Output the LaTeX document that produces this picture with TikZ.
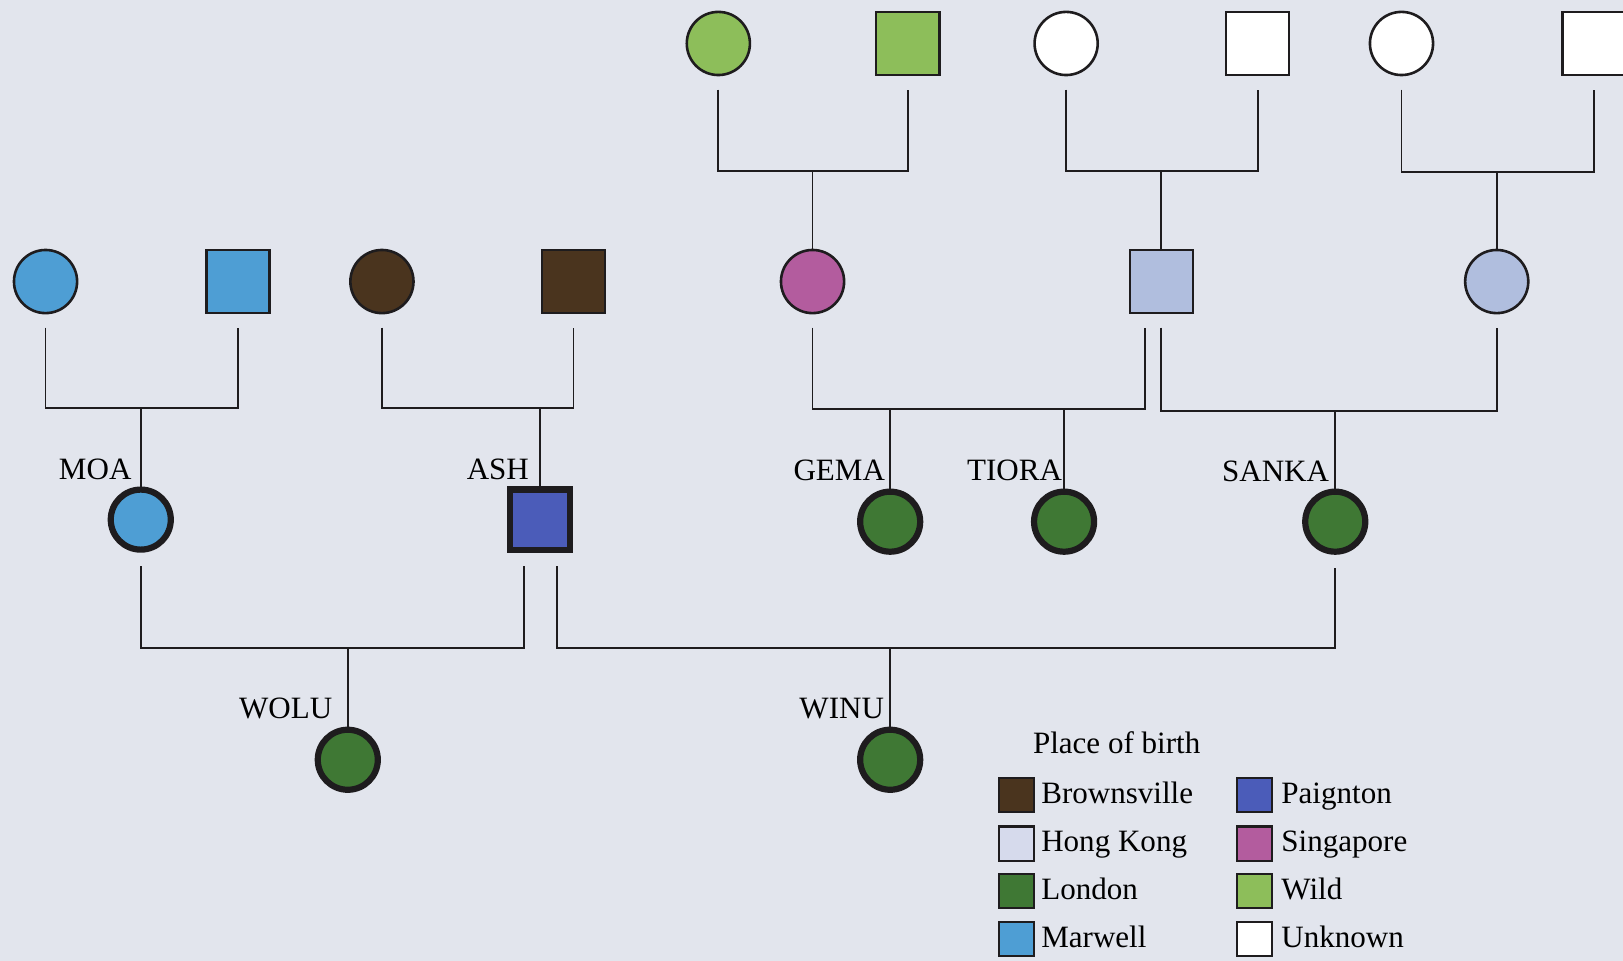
\documentclass[tikz,border=0pt]{standalone}
\usepackage{fontspec}
\setmainfont{Liberation Serif}
\definecolor{bg}{RGB}{226,229,237}
\definecolor{ink}{RGB}{30,28,30}
\definecolor{marwell}{RGB}{78,158,212}
\definecolor{brownsville}{RGB}{74,52,30}
\definecolor{paignton}{RGB}{75,92,185}
\definecolor{hongkong}{RGB}{176,190,222}
\definecolor{hongkonglight}{RGB}{214,218,236}
\definecolor{singapore}{RGB}{179,92,158}
\definecolor{wild}{RGB}{141,190,90}
\definecolor{london}{RGB}{63,120,52}
\begin{document}
\begin{tikzpicture}[x=1pt,y=-1pt,
  font=\fontsize{30}{36}\selectfont,
  every node/.style={inner sep=0pt, outer sep=0pt},
  fem/.style={circle, draw=ink, line width=2.5pt, minimum size=61pt},
  mal/.style={rectangle, draw=ink, line width=2.5pt, minimum size=61pt},
  femk/.style={circle, draw=ink, line width=6pt, minimum size=58pt},
  malk/.style={rectangle, draw=ink, line width=6pt, minimum size=58pt},
  link/.style={draw=ink, line width=1.8pt},
  lbl/.style={anchor=base east},
  swatch/.style={rectangle, draw=ink, line width=2pt, minimum size=33pt},
  legtext/.style={anchor=base west}
]
\useasboundingbox (0,0) rectangle (1568,928);
\fill[bg] (0,0) rectangle (1568,928);

% generation 1
\node[fem, fill=wild] (G1) at (694,42) {};
\node[mal, fill=wild] (G2) at (877,42) {};
\node[fem, fill=white] (G3) at (1030,42) {};
\node[mal, fill=white] (G4) at (1215,42) {};
\node[fem, fill=white] (G5) at (1354,42) {};
\node[mal, fill=white] (G6) at (1540,42) {};

% generation 2
\node[fem, fill=marwell] (P1) at (44,272) {};
\node[mal, fill=marwell] (P2) at (230,272) {};
\node[fem, fill=brownsville] (P3) at (369,272) {};
\node[mal, fill=brownsville] (P4) at (554,272) {};
\node[fem, fill=singapore] (P5) at (785,272) {};
\node[mal, fill=hongkong] (P6) at (1122,272) {};
\node[fem, fill=hongkong] (P7) at (1446,272) {};

% generation 3
\node[femk, fill=marwell] (MOA) at (136,502) {};
\node[malk, fill=paignton] (ASH) at (522,502) {};
\node[femk, fill=london] (GEMA) at (860,504) {};
\node[femk, fill=london] (TIORA) at (1028,504) {};
\node[femk, fill=london] (SANKA) at (1290,504) {};

% generation 4
\node[femk, fill=london] (WOLU) at (336,734) {};
\node[femk, fill=london] (WINU) at (860,734) {};

% labels
\node[lbl] (tMOA) at (127,463) {MOA};
\node[lbl] (tASH) at (511,463) {ASH};
\node[lbl] (tGEMA) at (855,464) {GEMA};
\node[lbl] (tTIORA) at (1026,464) {TIORA};
\node[lbl] (tSANKA) at (1284,465) {SANKA};
\node[lbl] (tWOLU) at (321,694) {WOLU};
\node[lbl] (tWINU) at (854,694) {WINU};

% junctions
\coordinate (j1) at (785,165);
\coordinate (j2) at (1122,165);
\coordinate (j3) at (1446,166);
\coordinate (jM) at (136,394);
\coordinate (jA) at (522,394);
\coordinate (jG) at (860,395);
\coordinate (jT) at (1028,395);
\coordinate (jS) at (1290,397);
\coordinate (jW) at (336,626);
\coordinate (jN) at (860,626);

% connectors gen1 -> gen2
\draw[link] ([yshift=-14pt]G1.south) |- (j1) -| ([yshift=-14pt]G2.south);
\draw[link] (j1) -- (P5.north);
\draw[link] ([yshift=-14pt]G3.south) |- (j2) -| ([yshift=-14pt]G4.south);
\draw[link] (j2) -- (P6.north);
\draw[link] ([yshift=-14pt]G5.south) |- (j3) -| ([yshift=-14pt]G6.south);
\draw[link] (j3) -- (P7.north);

% connectors gen2 -> gen3
\draw[link] ([yshift=-14pt]P1.south) |- (jM) -| ([yshift=-14pt]P2.south);
\draw[link] (jM) -- (MOA.north);
\draw[link] ([yshift=-14pt]P3.south) |- (jA) -| ([yshift=-14pt]P4.south);
\draw[link] (jA) -- (ASH.north);
\draw[link] ([yshift=-14pt]P5.south) |- (jG) -- (jT) -| ([xshift=-16pt,yshift=-14pt]P6.south);
\draw[link] (jG) -- (GEMA.north);
\draw[link] (jT) -- (TIORA.north);
\draw[link] ([yshift=-14pt]P6.south) |- (jS) -| ([yshift=-14pt]P7.south);
\draw[link] (jS) -- (SANKA.north);

% connectors gen3 -> gen4
\draw[link] ([yshift=-16pt]MOA.south) |- (jW) -| ([xshift=-16pt,yshift=-16pt]ASH.south);
\draw[link] (jW) -- (WOLU.north);
\draw[link] ([xshift=16pt,yshift=-16pt]ASH.south) |- (jN) -| ([yshift=-16pt]SANKA.south);
\draw[link] (jN) -- (WINU.north);

% legend
\node[anchor=base west] (ltitle) at (998,728) {Place of birth};
\node[swatch, fill=brownsville] (s1) at (982,768) {};
\node[swatch, fill=hongkonglight] (s2) at (982,815) {};
\node[swatch, fill=london] (s3) at (982,861) {};
\node[swatch, fill=marwell] (s4) at (982,907) {};
\node[swatch, fill=paignton] (s5) at (1212,768) {};
\node[swatch, fill=singapore] (s6) at (1212,815) {};
\node[swatch, fill=wild] (s7) at (1212,861) {};
\node[swatch, fill=white] (s8) at (1212,907) {};
\node[legtext] (l1) at (1006,776) {Brownsville};
\node[legtext] (l2) at (1006,823) {Hong Kong};
\node[legtext] (l3) at (1006,869) {London};
\node[legtext] (l4) at (1006,915) {Marwell};
\node[legtext] (l5) at (1238,776) {Paignton};
\node[legtext] (l6) at (1238,823) {Singapore};
\node[legtext] (l7) at (1238,869) {Wild};
\node[legtext] (l8) at (1238,915) {Unknown};
\end{tikzpicture}
\end{document}
